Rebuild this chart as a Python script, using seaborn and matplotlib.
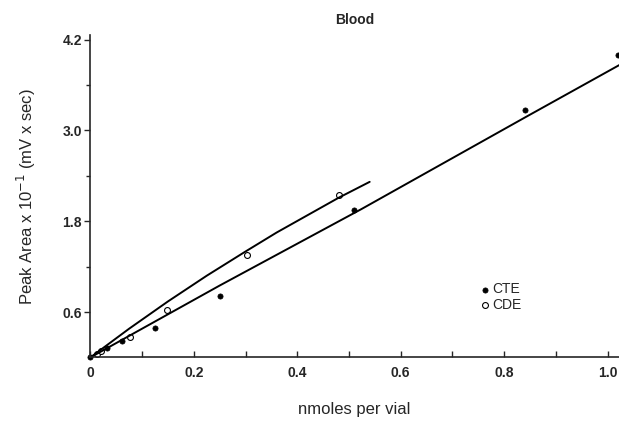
import seaborn as sns
import matplotlib.pyplot as plt
import pandas as pd

# measured points (nmoles per vial, peak area x 10^-1)
cte_x = [0.0, 0.032, 0.062, 0.125, 0.25, 0.51, 0.84, 1.021]
cte_y = [0.0, 0.12, 0.22, 0.39, 0.81, 1.95, 3.27, 4.0]
cde_x = [0.012, 0.021, 0.076, 0.149, 0.302, 0.48]
cde_y = [0.05, 0.09, 0.27, 0.63, 1.36, 2.14]

# fitted curves
cte_fit_x = [0.0, 0.25, 0.524, 0.84, 1.027]
cte_fit_y = [0.0, 0.95, 1.96, 3.17, 3.88]
cde_fit_x = [0.0, 0.075, 0.15, 0.225, 0.30, 0.36, 0.42, 0.48, 0.54]
cde_fit_y = [0.0, 0.38, 0.74, 1.08, 1.40, 1.65, 1.88, 2.11, 2.32]

sns.set_style("ticks")
plt.rcParams["font.family"] = ["Liberation Sans", "DejaVu Sans"]

fig = plt.figure(figsize=(6.19, 4.22), dpi=100)
ax = fig.add_axes([0.146, 0.153, 0.854, 0.764])

sns.lineplot(x=cte_fit_x, y=cte_fit_y, sort=False, estimator=None,
             color="black", lw=1.4, ax=ax)
sns.lineplot(x=cde_fit_x, y=cde_fit_y, sort=False, estimator=None,
             color="black", lw=1.4, ax=ax)
sns.scatterplot(x=cte_x, y=cte_y, color="black", s=14, marker="o",
                edgecolor="black", linewidth=0.5, ax=ax, clip_on=False, label="CTE")
sns.scatterplot(x=cde_x, y=cde_y, color="white", s=18, marker="o",
                edgecolor="black", linewidth=0.8, ax=ax, clip_on=False, label="CDE")

ax.set_xlim(0, 1.022)
ax.set_ylim(0, 4.26)
ax.set_xticks([0, 0.2, 0.4, 0.6, 0.8, 1.0])
ax.set_xticklabels(["0", "0.2", "0.4", "0.6", "0.8", "1.0"])
ax.set_xticks([0.1, 0.3, 0.5, 0.7, 0.9], minor=True)
ax.set_yticks([0.6, 1.8, 3.0, 4.2])
ax.set_yticklabels(["0.6", "1.8", "3.0", "4.2"])
ax.set_yticks([1.2, 2.4, 3.6], minor=True)
ax.tick_params(axis="x", which="both", direction="in", length=4, width=1, pad=6, labelsize=10)
ax.tick_params(axis="y", which="major", direction="out", length=4, width=1, pad=2, labelsize=10)
ax.tick_params(axis="y", which="minor", direction="out", length=3, width=1)
for lab in ax.get_xticklabels() + ax.get_yticklabels():
    lab.set_fontweight("bold")
for s in ["left", "bottom"]:
    ax.spines[s].set_linewidth(1.2)
sns.despine(ax=ax)

ax.set_title("Blood", fontsize=10, fontweight="bold", pad=8)
ax.set_xlabel("nmoles per vial", fontsize=12, labelpad=16)
ax.set_ylabel("Peak Area x 10$^{-1}$ (mV x sec)", fontsize=12, labelpad=18)

ax.legend(loc="upper left", bbox_to_anchor=(0.72, 0.255), frameon=False,
          fontsize=10, handletextpad=0.0, labelspacing=0.1, borderpad=0,
          handlelength=1.0)

fig.savefig("out.png", dpi=100)
